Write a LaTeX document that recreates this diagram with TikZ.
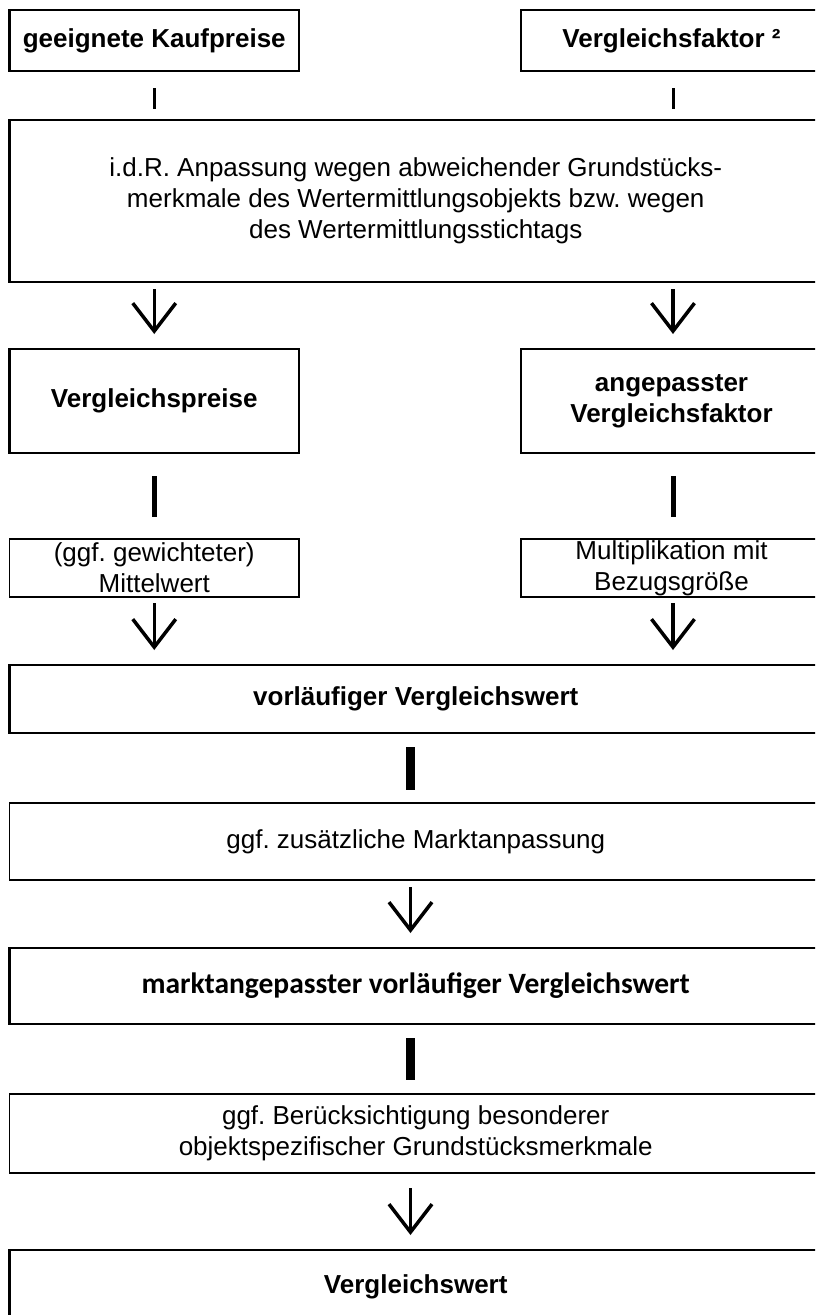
\documentclass[tikz,border=0pt]{standalone}
\usepackage{fontspec}
\setmainfont{Liberation Sans}
\newfontfamily\calib{Carlito}
\usetikzlibrary{arrows.meta}
\frenchspacing
\begin{document}
\begin{tikzpicture}[x=1pt,y=-1pt,
  box/.style={draw, rectangle, line width=2.8pt, inner sep=0pt, outer sep=0pt,
    align=center, font=\fontsize{26}{31}\selectfont},
  boldbox/.style={box, font=\fontsize{26}{31}\selectfont\bfseries},
  lightbox/.style={box, line width=1.8pt},
  link1/.style={line width=3pt},
  link2/.style={line width=5pt},
  link3/.style={line width=9pt},
  arr/.style={line width=3.5pt, -{Straight Barb[length=28pt,width=43pt,sharp]}}
]
\useasboundingbox (0,0) rectangle (815,1315);
\clip (0,0) rectangle (815,1315);
\fill[white] (0,0) rectangle (815,1315);

\coordinate (colR) at (673,0);
\coordinate (colM) at (410.5,0);

\node[boldbox, minimum width=289.5, minimum height=61] (A) at (154.25,40.5) {geeignete Kaufpreise};
\node[boldbox, minimum width=301, minimum height=61] (B) at (671.5,40.5) {Vergleichsfaktor ²};

\node[box, minimum width=812.5, minimum height=162] (C) at (415.75,201)
  {i.d.R. Anpassung wegen abweichender Grundstücks-\\merkmale des Wertermittlungsobjekts bzw. wegen\\des Wertermittlungsstichtags};

\node[boldbox, minimum width=289.5, minimum height=104] (D) at (154.25,401) {Vergleichspreise};
\node[boldbox, minimum width=301, minimum height=104] (E) at (671.5,401) {angepasster\\Vergleichsfaktor};

\node[lightbox, minimum width=289.5, minimum height=58] (F) at (154.25,568) {(ggf. gewichteter)\\Mittelwert};
\node[lightbox, minimum width=301, minimum height=58] (G) at (671.5,568) {Multiplikation mit\\Bezugsgröße};

\node[boldbox, minimum width=812.5, minimum height=68] (H) at (415.75,699) {vorläufiger Vergleichswert};

\node[lightbox, minimum width=812.5, minimum height=77] (I) at (415.75,841.5) {ggf. zusätzliche Marktanpassung};

\node[box, font=\fontsize{29.5}{31}\selectfont\calib\bfseries, minimum width=812.5, minimum height=76] (J) at (415.75,986)
  {marktangepasster vorläufiger Vergleichswert};

\node[lightbox, minimum width=812.5, minimum height=79] (K) at (415.75,1133.5)
  {ggf. Berücksichtigung besonderer\\objektspezifischer Grundstücksmerkmale};

\node[boldbox, minimum width=812.5, minimum height=74] (L) at (415.75,1287) {Vergleichswert};

% top links
\draw[link1, shorten <=17pt, shorten >=11pt] (A.south) -- (A.south |- C.north);
\draw[link1, shorten <=17pt, shorten >=11pt] (B.south -| colR) -- (C.north -| colR);

% arrows to D/E
\draw[arr, shorten <=7pt, shorten >=15pt] (C.south -| A.south) -- (D.north);
\draw[arr, shorten <=7pt, shorten >=15pt] (C.south -| colR) -- (E.north -| colR);

% links D/E to F/G
\draw[link2, shorten <=23pt, shorten >=22pt] (D.south) -- (F.north);
\draw[link2, shorten <=23pt, shorten >=22pt] (E.south -| colR) -- (G.north -| colR);

% arrows to H
\draw[arr, shorten <=6pt, shorten >=15pt] (F.south) -- (F.south |- H.north);
\draw[arr, shorten <=6pt, shorten >=15pt] (G.south -| colR) -- (H.north -| colR);

% center column
\draw[link3, shorten <=14pt, shorten >=13pt] (H.south -| colM) -- (I.north -| colM);
\draw[arr, shorten <=7pt, shorten >=15pt] (I.south -| colM) -- (J.north -| colM);
\draw[link3, shorten <=14pt, shorten >=14pt] (J.south -| colM) -- (K.north -| colM);
\draw[arr, shorten <=15pt, shorten >=15pt] (K.south -| colM) -- (L.north -| colM);
\end{tikzpicture}
\end{document}
